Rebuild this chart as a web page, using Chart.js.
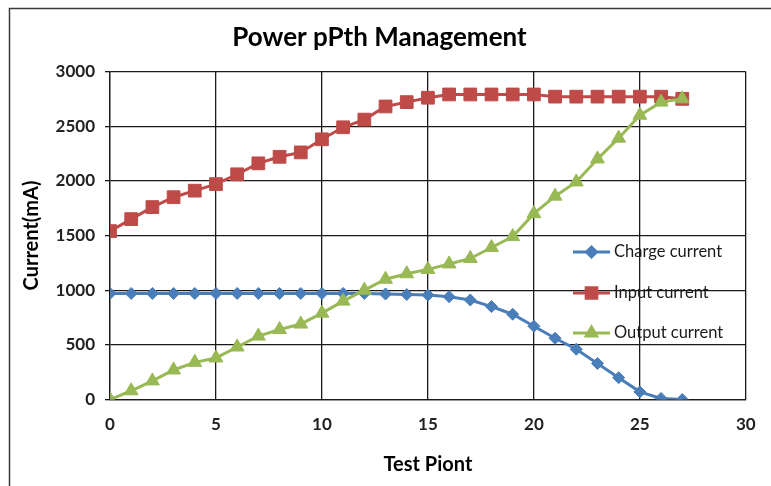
<!DOCTYPE html>
<html><head><meta charset="utf-8">
<script src="https://cdn.jsdelivr.net/npm/chart.js@4/dist/chart.umd.min.js"></script>
<style>html,body{margin:0;padding:0;background:#fff}#wrap{width:771px;height:486px;position:relative}</style>
</head><body><div id="wrap"><canvas id="c" width="771" height="486"></canvas></div>
<script>
const chartTitle = 'Power pPth Management';
const xTitle = 'Test Piont';
const yTitle = 'Current(mA)';
const seriesNames = ['Charge current', 'Input current', 'Output current'];
const testPoints = [0,1,2,3,4,5,6,7,8,9,10,11,12,13,14,15,16,17,18,19,20,21,22,23,24,25,26,27];
const chargeCurrent = [970,970,970,970,970,970,970,970,970,970,970,970,970,965,960,955,940,910,850,780,670,560,460,330,200,70,10,0];
const inputCurrent = [1540,1650,1760,1850,1910,1970,2060,2160,2220,2260,2380,2490,2560,2680,2720,2760,2790,2790,2790,2790,2790,2770,2770,2770,2770,2770,2770,2750];
const outputCurrent = [0,80,170,270,340,380,480,580,640,690,790,900,1000,1100,1150,1190,1240,1290,1390,1490,1700,1860,1990,2200,2390,2600,2720,2750];
const xTicks = [0,5,10,15,20,25,30];
const yTicks = [0,500,1000,1500,2000,2500,3000];

const colors = ['#4A7EBB', '#BE4B48', '#98B954'];
const styles = ['rectRot', 'rect', 'triangle'];
const radii = [6, 9, 8];
const legendRadii = [5, 7.5, 6];

function pts(arr){ return testPoints.map((x,i)=>({x:x, y:arr[i]})); }
const seriesData = [chargeCurrent, inputCurrent, outputCurrent];

const framePlugin = {
  id:'frame',
  beforeDraw(chart){
    const ctx = chart.ctx;
    ctx.save();
    ctx.fillStyle = '#fff';
    ctx.fillRect(0,0,chart.width,chart.height);
    ctx.strokeStyle = '#3a3a3a';
    ctx.lineWidth = 1.5;
    ctx.beginPath();
    ctx.moveTo(9.5, chart.height);
    ctx.lineTo(9.5, 8.5);
    ctx.lineTo(chart.width, 8.5);
    ctx.stroke();
    ctx.restore();
  }
};

const legendPlugin = {
  id:'insideLegend',
  afterDatasetsDraw(chart){
    const ctx = chart.ctx;
    const ys = [252, 293, 333];
    ctx.save();
    chart.data.datasets.forEach((ds, i) => {
      const y = ys[i];
      ctx.strokeStyle = ds.borderColor;
      ctx.lineWidth = 3;
      ctx.beginPath();
      ctx.moveTo(573, y); ctx.lineTo(610, y); ctx.stroke();
      ctx.fillStyle = ds.backgroundColor;
      ctx.strokeStyle = ds.borderColor;
      Chart.helpers.drawPoint(ctx, {pointStyle: ds.pointStyle, radius: legendRadii[i], borderWidth: 1, rotation: 0}, 591.5, y);
      ctx.fillStyle = '#1a1a1a';
      ctx.font = '16.5px Lato';
      ctx.textBaseline = 'middle';
      ctx.textAlign = 'left';
      ctx.fillText(ds.label, 614, y);
    });
    ctx.restore();
  }
};

new Chart(document.getElementById('c'), {
  type: 'line',
  data: {
    datasets: seriesNames.map((name, i) => ({
      label: name,
      data: pts(seriesData[i]),
      borderColor: colors[i],
      backgroundColor: colors[i],
      borderWidth: 3,
      pointStyle: styles[i],
      pointRadius: radii[i],
      pointHoverRadius: radii[i],
      pointBorderWidth: 1,
      pointBackgroundColor: colors[i],
      pointBorderColor: colors[i],
      tension: 0,
      order: 2 - i
    }))
  },
  options: {
    responsive: false,
    animation: false,
    layout: { padding: { left: 12, right: 24, top: 0, bottom: 0 } },
    plugins: {
      legend: { display: false },
      tooltip: { enabled: false },
      title: {
        display: true,
        text: chartTitle,
        color: '#000',
        font: { family: 'Lato', size: 26, weight: 'bold' },
        padding: { top: 22.4, bottom: 17.9 }
      }
    },
    scales: {
      x: {
        type: 'linear',
        min: 0, max: 30,
        afterFit(s){ s.height = 86.5; },
        afterBuildTicks(s){ s.ticks = xTicks.map(v=>({value:v})); },
        grid: { color: '#1a1a1a', lineWidth: 1.3, drawTicks: false },
        border: { display: true, color: '#1a1a1a', width: 1.3 },
        ticks: { color: '#222', font: { family: 'Lato', size: 17, weight: 'bold' }, padding: 15.3, maxRotation: 0, callback: v => String(v) },
        title: { display: true, text: xTitle, color: '#000', font: { family: 'Lato', size: 20, weight: 'bold' }, padding: { top: 0, bottom: 9 } }
      },
      y: {
        min: 0, max: 3000,
        afterFit(s){ s.width = 98; },
        afterBuildTicks(s){ s.ticks = yTicks.map(v=>({value:v})); },
        grid: { color: '#1a1a1a', lineWidth: 1.3, drawTicks: true, tickLength: 5 },
        border: { display: true, color: '#1a1a1a', width: 1.3 },
        ticks: { color: '#222', font: { family: 'Lato', size: 17, weight: 'bold' }, padding: 10, callback: v => String(v) },
        title: { display: true, text: yTitle, color: '#000', font: { family: 'Lato', size: 20, weight: 'bold' }, padding: { top: 8, bottom: 0 } }
      }
    }
  },
  plugins: [framePlugin, legendPlugin]
});
</script></body></html>
